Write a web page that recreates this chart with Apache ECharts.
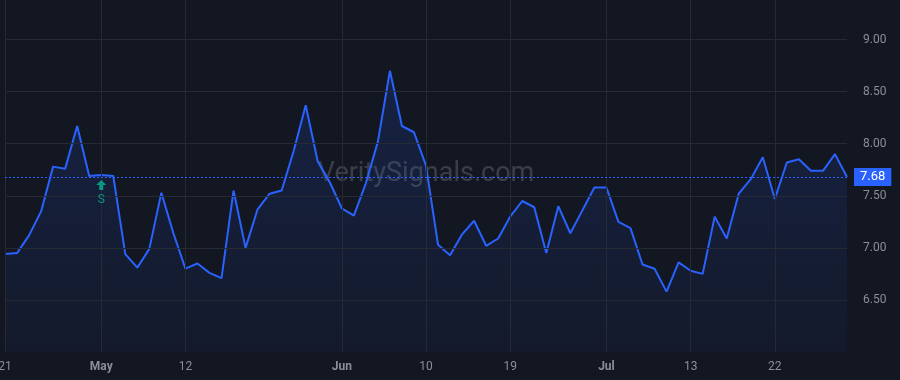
<!DOCTYPE html>
<html lang="en" style="height: 100%">

<head>
  <meta charset="utf-8">
</head>

<body style="height: 100%; margin: 0; background: #131722">
  <div id="container" style="width: 900px; height: 380px"></div>

  <script type="text/javascript" src="https://cdn.jsdelivr.net/npm/echarts@6/dist/echarts.min.js"></script>

  <script type="text/javascript">
    // daily values
    var values = [
      6.94, 6.95, 7.12, 7.35, 7.78, 7.76, 8.17, 7.69, 7.70, 7.69,
      6.94, 6.81, 6.99, 7.53, 7.14, 6.80, 6.85, 6.76, 6.71, 7.55,
      7.00, 7.37, 7.52, 7.55, 7.93, 8.37, 7.83, 7.63, 7.38, 7.31,
      7.62, 8.02, 8.70, 8.17, 8.11, 7.79, 7.03, 6.93, 7.13, 7.26,
      7.02, 7.09, 7.30, 7.45, 7.39, 6.95, 7.40, 7.14, 7.36, 7.58,
      7.58, 7.25, 7.19, 6.84, 6.80, 6.58, 6.86, 6.78, 6.75, 7.30,
      7.09, 7.52, 7.66, 7.87, 7.47, 7.82, 7.85, 7.74, 7.74, 7.90,
      7.68
    ];

    // which points carry a date label, and the label text
    var tickIndex = [0, 8, 15, 28, 35, 42, 50, 57, 64];
    var tickText = ['21', 'May', '12', 'Jun', '10', '19', 'Jul', '13', '22'];
    var monthTicks = ['May', 'Jun', 'Jul'];

    // price levels with a horizontal grid line
    var priceLevels = [6.5, 7.0, 7.5, 8.0, 8.5, 9.0];

    var lastPrice = 7.68;
    var signalIndex = 8;
    var signalValue = 7.70;
    var signalText = 'S';

    var categories = values.map(function (v, i) { return String(i); });

    var gridColor = '#262a35';
    var textColor = '#8b8e97';

    // grid lines drawn as mark lines so only the wanted ones show
    var gridLines = tickIndex.map(function (i) { return { xAxis: i }; })
      .concat(priceLevels.map(function (p) { return { yAxis: p }; }));

    var dom = document.getElementById('container');
    var myChart = echarts.init(dom, null, { renderer: 'canvas' });

    var option = {
      backgroundColor: '#131722',
      animation: false,
      textStyle: { fontFamily: 'Roboto' },
      grid: { left: 5, right: 53, top: 0, bottom: 28, outerBoundsMode: 'none' },
      graphic: [{
        type: 'text',
        x: 426,
        y: 174,
        z: 1,
        silent: true,
        style: {
          text: 'VeritySignals.com',
          fill: 'rgba(255,255,255,0.17)',
          fontSize: 27,
          fontFamily: 'Roboto',
          align: 'center',
          verticalAlign: 'middle'
        }
      }],
      xAxis: {
        type: 'category',
        data: categories,
        boundaryGap: false,
        axisLine: { show: false },
        axisTick: { show: false },
        splitLine: { show: false },
        axisLabel: {
          interval: function (i) { return tickIndex.indexOf(i) >= 0; },
          margin: 9,
          fontSize: 12,
          color: textColor,
          formatter: function (v, i) {
            var k = tickIndex.indexOf(i);
            if (k < 0) return '';
            var t = tickText[k];
            return monthTicks.indexOf(t) >= 0 ? '{b|' + t + '}' : t;
          },
          rich: {
            b: { fontWeight: 'bold', fontSize: 12, color: textColor }
          }
        }
      },
      yAxis: {
        type: 'value',
        position: 'right',
        min: 6,
        max: 9.38,
        interval: 0.5,
        axisLine: { show: false },
        axisTick: { show: false },
        splitLine: { show: false },
        axisLabel: {
          margin: 16,
          fontSize: 12,
          color: textColor,
          showMaxLabel: false,
          showMinLabel: false,
          formatter: function (v) { return v.toFixed(2); }
        }
      },
      series: [{
        // carrier for the grid lines, drawn under the price line
        type: 'line',
        data: values,
        symbol: 'none',
        silent: true,
        z: 1,
        lineStyle: { opacity: 0 },
        markLine: {
          silent: true,
          symbol: 'none',
          animation: false,
          data: gridLines,
          lineStyle: { color: gridColor, type: 'solid', width: 1 },
          label: { show: false }
        }
      }, {
        type: 'line',
        data: values,
        symbol: 'none',
        z: 3,
        lineStyle: { color: '#2962ff', width: 2 },
        areaStyle: {
          color: new echarts.graphic.LinearGradient(0, 0, 0, 1, [
            { offset: 0, color: 'rgba(41,98,255,0.22)' },
            { offset: 1, color: 'rgba(41,98,255,0.06)' }
          ])
        },
        markLine: {
          silent: true,
          symbol: 'none',
          data: [{ yAxis: lastPrice }],
          lineStyle: { color: '#2962ff', type: [2, 2], width: 1 },
          label: {
            position: 'end',
            distance: 7,
            formatter: lastPrice.toFixed(2),
            backgroundColor: '#2962ff',
            color: '#ffffff',
            fontSize: 13,
            lineHeight: 14,
            padding: [2, 6, 2, 6]
          }
        },
        markPoint: {
          silent: true,
          data: [{
            coord: [signalIndex, signalValue],
            symbol: 'path://M5,0 L10,5 L7,5 L7,10 L3,10 L3,5 L0,5 Z',
            symbolSize: [10, 10],
            symbolOffset: [0, 10],
            itemStyle: { color: '#089981' },
            label: {
              show: true,
              formatter: signalText,
              position: 'bottom',
              distance: 4,
              color: '#089981',
              fontSize: 12
            }
          }]
        }
      }]
    };

    myChart.setOption(option);
    window.addEventListener('resize', myChart.resize);
  </script>
</body>

</html>
